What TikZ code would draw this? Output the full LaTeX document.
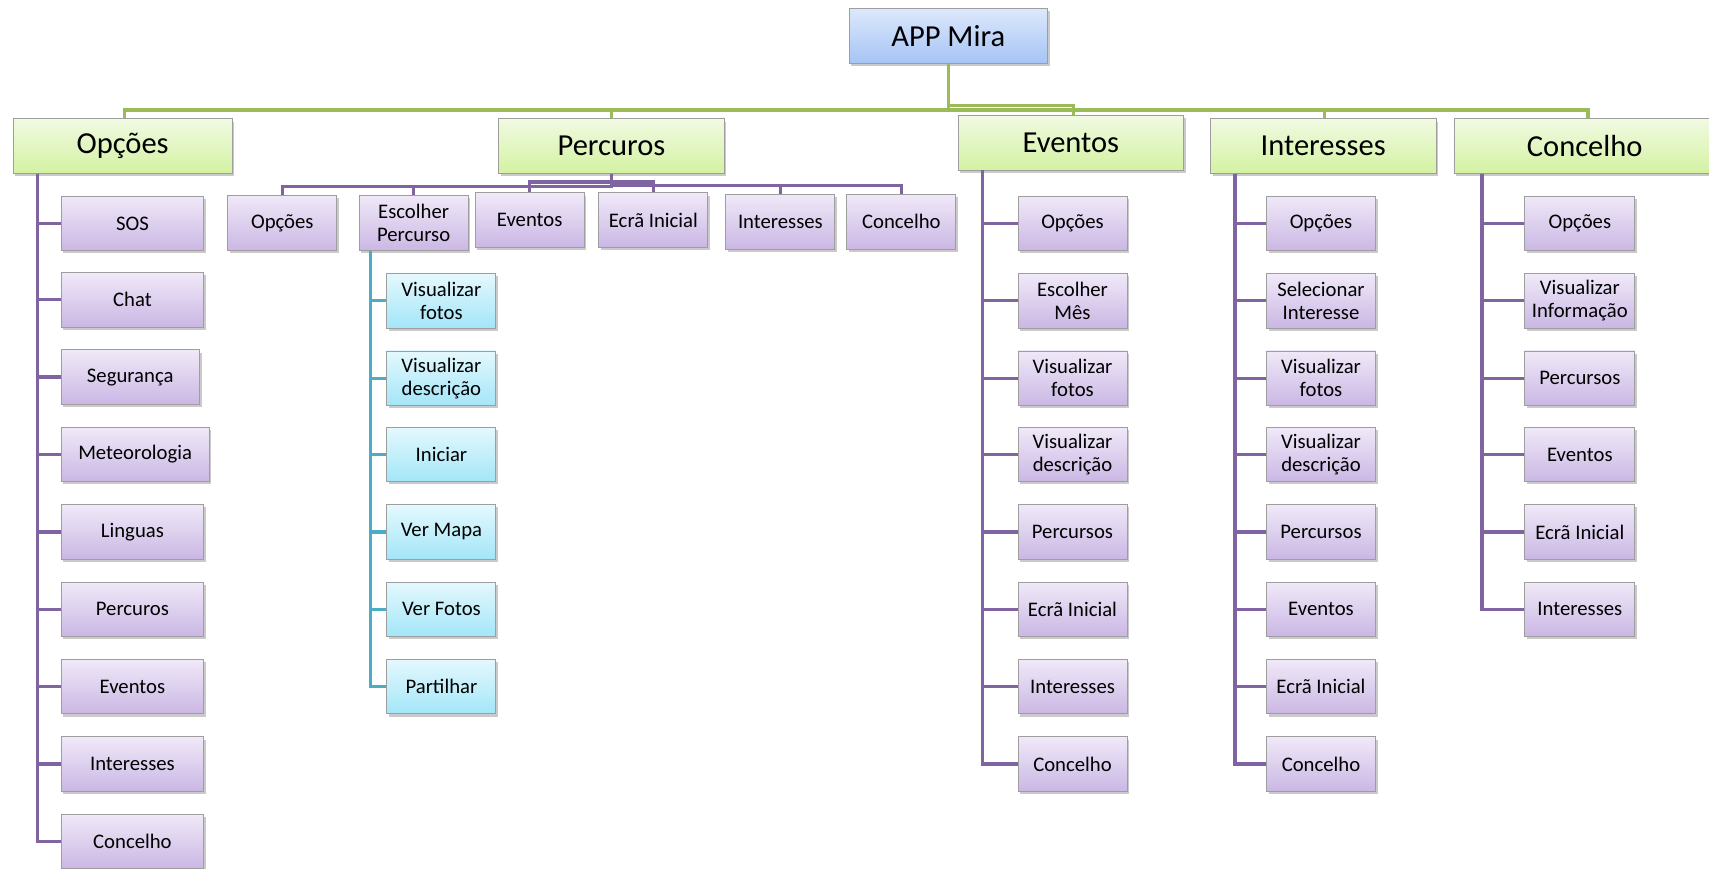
\documentclass[tikz,border=0pt]{standalone}
\usepackage{fontspec}
\setmainfont{Carlito}
\usetikzlibrary{shadows}
\definecolor{grn}{HTML}{9BBB59}
\definecolor{prp}{HTML}{8064A2}
\definecolor{cyn}{HTML}{4BACC6}
\definecolor{rootT}{HTML}{DCE8FC}
\definecolor{rootB}{HTML}{A6C4F4}
\definecolor{grnT}{HTML}{F1FAE2}
\definecolor{grnB}{HTML}{D3F2A2}
\definecolor{prpT}{HTML}{F0E9F8}
\definecolor{prpB}{HTML}{CAB7E4}
\definecolor{cynT}{HTML}{E4F8FD}
\definecolor{cynB}{HTML}{A3E6F8}
\tikzset{
  base/.style={draw=black!38, line width=0.8pt, inner sep=0pt, align=center,
    drop shadow={shadow xshift=2pt, shadow yshift=-2.5pt, opacity=0.35, fill=black!60}},
  rootbox/.style={base, top color=rootT, bottom color=rootB, minimum width=182pt,
    minimum height=50pt, font=\fontsize{28}{30}\selectfont},
  topbox/.style={base, top color=grnT, bottom color=grnB, minimum width=207pt,
    minimum height=50pt, font=\fontsize{28}{30}\selectfont},
  leaf/.style={base, top color=prpT, bottom color=prpB, minimum width=100pt,
    minimum height=50pt, font=\fontsize{19}{21}\selectfont},
  cleaf/.style={base, top color=cynT, bottom color=cynB, minimum width=100pt,
    minimum height=50pt, font=\fontsize{19}{21}\selectfont},
  gline/.style={draw=grn, line width=3pt},
  pline/.style={draw=prp, line width=3pt},
  cline/.style={draw=cyn, line width=3pt},
}
\begin{document}
\begin{tikzpicture}[x=1pt,y=-1pt]
\useasboundingbox (0,0) rectangle (1568,797);

% root and level 1
\node[rootbox] (root) at (870,33) {APP Mira};
\node[topbox, minimum width=201pt] (opt) at (112.5,134) {Opções};
\node[topbox] (per) at (561,134) {Percuros};
\node[topbox] (eve) at (982.5,131) {Eventos};
\node[topbox] (int) at (1214,134) {Interesses};
\node[topbox, minimum width=240pt] (con) at (1454,134) {Concelho};

\coordinate (gm) at (0,101);
\coordinate (gme) at (0,97);
\draw[gline] (root.south) -- (root.south |- gm) -| ([xshift=1.5pt]opt.north);
\draw[gline] (root.south) -- (root.south |- gm) -| (per.north);
\draw[gline] (root.south) -- (root.south |- gme) -| ([xshift=2.5pt]eve.north);
\draw[gline] (root.south) -- (root.south |- gm) -| ([xshift=1pt]int.north);
\draw[gline] (root.south) -- (root.south |- gm) -| ([xshift=3pt]con.north);

% Opcoes column
\node[leaf, minimum width=131pt] (o1) at (121.5,205) {SOS};
\node[leaf, minimum width=131pt] (o2) at (121.5,275) {Chat};
\node[leaf, minimum width=127pt] (o3) at (119.5,346) {Segurança};
\node[leaf, minimum width=136pt] (o4) at (124,417) {Meteorologia};
\node[leaf, minimum width=131pt] (o5) at (121.5,488) {Linguas};
\node[leaf, minimum width=131pt] (o6) at (121.5,559) {Percuros};
\node[leaf, minimum width=131pt] (o7) at (121.5,630) {Eventos};
\node[leaf, minimum width=131pt] (o8) at (121.5,701) {Interesses};
\node[leaf, minimum width=131pt] (o9) at (121.5,772) {Concelho};
\foreach \c in {o1,o2,o3,o4,o5,o6,o7,o8,o9}
  \draw[pline] ([xshift=23pt]opt.south west) |- (\c.west);

% Percuros children
\node[leaf, minimum height=51pt] (p1) at (259,204.5) {Opções};
\node[leaf, minimum height=51pt] (p2) at (379.5,204.5) {Escolher\\Percurso};
\node[leaf] (p3) at (486,202) {Eventos};
\node[leaf] (p4) at (599.5,202) {Ecrã Inicial};
\node[leaf, minimum height=51pt] (p5) at (716,203.5) {Interesses};
\node[leaf, minimum height=51pt] (p6) at (827,203.5) {Concelho};
\coordinate (pa) at (0,171);
\coordinate (pb) at (0,167);
\coordinate (pc) at (0,170);
\draw[pline] (per.south) -- (per.south |- pa) -| (p1.north);
\draw[pline] (per.south) -- (per.south |- pa) -| (p2.north);
\draw[pline] (per.south) -- (per.south |- pb) -| (p3.north);
\draw[pline] (per.south) -- (per.south |- pb) -| (p4.north);
\draw[pline] (per.south) -- (per.south |- pc) -| (p5.north);
\draw[pline] (per.south) -- (per.south |- pc) -| (p6.north);

% Escolher Percurso children
\node[cleaf] (c1) at (405,276) {Visualizar\\fotos};
\node[cleaf] (c2) at (405,347) {Visualizar\\descrição};
\node[cleaf] (c3) at (405,417) {Iniciar};
\node[cleaf] (c4) at (405,488) {Ver Mapa};
\node[cleaf] (c5) at (405,559) {Ver Fotos};
\node[cleaf] (c6) at (405,630) {Partilhar};
\foreach \c in {c1,c2,c3,c4,c5,c6}
  \draw[cline] ([xshift=11pt]p2.south west) |- (\c.west);

% Eventos column
\node[leaf] (e1) at (984,205) {Opções};
\node[leaf] (e2) at (984,276) {Escolher\\Mês};
\node[leaf] (e3) at (984,347) {Visualizar\\fotos};
\node[leaf] (e4) at (984,417) {Visualizar\\descrição};
\node[leaf] (e5) at (984,488) {Percursos};
\node[leaf] (e6) at (984,559) {Ecrã Inicial};
\node[leaf] (e7) at (984,630) {Interesses};
\node[leaf] (e8) at (984,701) {Concelho};
\foreach \c in {e1,e2,e3,e4,e5,e6,e7,e8}
  \draw[pline] ([xshift=23pt]eve.south west) |- (\c.west);

% Interesses column
\node[leaf] (i1) at (1212,205) {Opções};
\node[leaf] (i2) at (1212,276) {Selecionar\\Interesse};
\node[leaf] (i3) at (1212,347) {Visualizar\\fotos};
\node[leaf] (i4) at (1212,417) {Visualizar\\descrição};
\node[leaf] (i5) at (1212,488) {Percursos};
\node[leaf] (i6) at (1212,559) {Eventos};
\node[leaf] (i7) at (1212,630) {Ecrã Inicial};
\node[leaf] (i8) at (1212,701) {Concelho};
\foreach \c in {i1,i2,i3,i4,i5,i6,i7,i8}
  \draw[pline] ([xshift=23pt]int.south west) |- (\c.west);

% Concelho column
\node[leaf, minimum width=101pt] (k1) at (1449.5,205) {Opções};
\node[leaf, minimum width=101pt] (k2) at (1449.5,276) {Visualizar\\Informação};
\node[leaf, minimum width=101pt] (k3) at (1449.5,347) {Percursos};
\node[leaf, minimum width=101pt] (k4) at (1449.5,417) {Eventos};
\node[leaf, minimum width=101pt] (k5) at (1449.5,488) {Ecrã Inicial};
\node[leaf, minimum width=101pt] (k6) at (1449.5,559) {Interesses};
\foreach \c in {k1,k2,k3,k4,k5,k6}
  \draw[pline] ([xshift=26pt]con.south west) |- (\c.west);
\end{tikzpicture}
\end{document}
